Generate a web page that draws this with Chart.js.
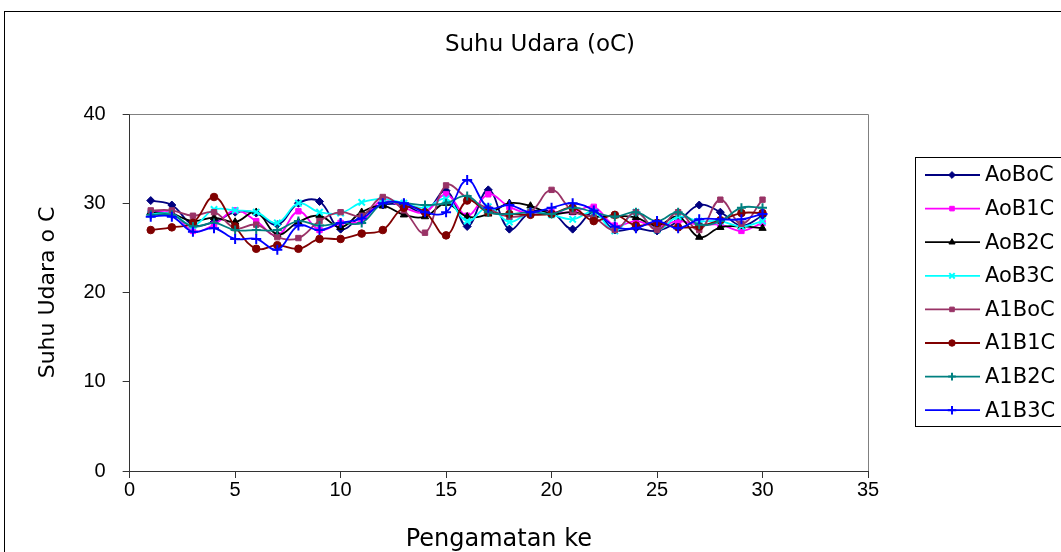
<!DOCTYPE html>
<html>
<head>
<meta charset="utf-8">
<script src="https://cdn.jsdelivr.net/npm/chart.js@4/dist/chart.umd.min.js"></script>
<style>
  html, body { margin: 0; padding: 0; background: #fff; }
  #wrap { width: 1061px; height: 552px; }
</style>
</head>
<body>
<div id="wrap"><canvas id="chart-suhu" width="1061" height="552"></canvas></div>
<script>
// data
var obs = [1, 2, 3, 4, 5, 6, 7, 8, 9, 10, 11, 12, 13, 14, 15, 16, 17, 18, 19, 20, 21, 22, 23, 24, 25, 26, 27, 28, 29, 30];
var seriesNames = ['AoBoC', 'AoB1C', 'AoB2C', 'AoB3C', 'A1BoC', 'A1B1C', 'A1B2C', 'A1B3C'];
var aoBoC = [30.3, 29.8, 27.6, 27.9, 29.0, 28.9, 27.6, 30.0, 30.2, 27.1, 28.6, 29.8, 29.8, 29.0, 31.4, 27.4, 31.5, 27.1, 29.0, 29.0, 27.1, 29.0, 27.0, 27.2, 26.9, 28.0, 29.8, 29.0, 27.5, 28.6];
var aoB1C = [29.0, 29.0, 26.9, 27.6, 29.2, 28.0, 26.4, 29.1, 27.0, 27.8, 28.0, 30.4, 29.5, 29.0, 31.0, 28.6, 31.0, 29.6, 28.8, 29.0, 29.0, 29.6, 27.5, 28.0, 27.4, 28.0, 27.6, 27.6, 26.9, 27.8];
var aoB2C = [29.0, 28.8, 28.0, 28.4, 27.9, 29.0, 26.5, 27.9, 28.6, 27.3, 29.0, 29.7, 28.7, 28.5, 30.0, 28.5, 28.8, 30.0, 29.7, 28.8, 29.0, 28.5, 28.6, 28.4, 27.5, 28.5, 26.2, 27.3, 27.4, 27.2];
var aoB3C = [28.8, 28.8, 27.5, 29.3, 29.2, 29.0, 27.8, 30.0, 29.0, 28.9, 30.1, 30.5, 30.0, 29.5, 30.5, 28.0, 29.6, 27.9, 29.0, 28.7, 28.2, 29.0, 26.9, 29.0, 27.0, 28.5, 28.0, 28.0, 27.4, 28.0];
var a1BoC = [29.2, 29.2, 28.6, 29.0, 27.2, 27.6, 26.2, 26.1, 28.0, 29.0, 28.6, 30.7, 29.2, 26.7, 32.0, 30.6, 29.4, 28.5, 29.0, 31.5, 29.1, 28.4, 27.0, 29.0, 27.0, 29.0, 27.0, 30.4, 27.7, 30.4];
var a1B1C = [27.0, 27.3, 27.8, 30.7, 27.4, 24.9, 25.3, 24.9, 26.0, 26.0, 26.6, 27.0, 29.5, 29.0, 26.4, 30.3, 29.0, 28.8, 28.7, 28.8, 29.5, 28.0, 28.7, 27.5, 27.8, 27.3, 27.4, 28.1, 28.9, 28.9];
var a1B2C = [28.7, 28.7, 27.4, 27.8, 27.0, 27.0, 27.0, 28.0, 27.5, 27.8, 27.8, 30.0, 30.0, 29.8, 30.0, 30.8, 29.0, 28.8, 29.0, 28.8, 29.5, 29.0, 28.5, 29.0, 28.0, 29.0, 27.6, 28.0, 29.5, 29.5];
var a1B3C = [28.5, 28.5, 26.8, 27.2, 26.0, 26.0, 24.8, 27.5, 27.0, 27.8, 28.3, 30.0, 30.0, 29.0, 29.0, 32.6, 29.5, 29.8, 29.0, 29.5, 30.0, 29.2, 27.4, 27.2, 28.0, 27.2, 28.2, 28.2, 28.2, 28.8];
var xTicks = [0, 5, 10, 15, 20, 25, 30, 35];
var yTicks = [0, 10, 20, 30, 40];
var chartTitle = 'Suhu Udara (oC)';

var allValues = [aoBoC, aoB1C, aoB2C, aoB3C, a1BoC, a1B1C, a1B2C, a1B3C];
var colors = ['#000080', '#ff00ff', '#000000', '#00ffff', '#993366', '#800000', '#008080', '#0000ff'];
var markers = ['rectRot', 'rect', 'triangle', 'crossRot', 'rect', 'circle', 'cross', 'cross'];
var markerSize = [4, 3.8, 4.2, 4.5, 3.8, 3.8, 4.5, 5];

var toPoints = (xs, ys) => {
    var pts = [];
    for (var i = 0; i < xs.length; i++) {
        pts.push({x: xs[i], y: ys[i]});
    }
    return pts;
}

var datasets = [];
for (var s = 0; s < seriesNames.length; s++) {
    var isLine = markers[s] == 'cross' || markers[s] == 'crossRot';
    datasets.push({
        label: seriesNames[s],
        data: toPoints(obs, allValues[s]),
        borderColor: colors[s],
        backgroundColor: colors[s],
        pointBackgroundColor: colors[s],
        pointBorderColor: colors[s],
        pointStyle: markers[s],
        pointRadius: markerSize[s],
        pointBorderWidth: isLine ? 2 : 1,
        borderWidth: 1.8,
        tension: 0.4,
        showLine: true,
        order: seriesNames.length - s
    });
}

// frame around the whole chart, title, plot border and legend box
var extras = {
    id: 'extras',
    afterDraw: (chart) => {
        var ctx = chart.ctx;
        var a = chart.chartArea;
        ctx.save();
        ctx.strokeStyle = '#000';
        ctx.lineWidth = 1;
        ctx.strokeRect(4.5, 11.5, 1100, 600);

        ctx.fillStyle = '#000';
        ctx.font = '23px "DejaVu Sans"';
        ctx.textAlign = 'center';
        ctx.textBaseline = 'middle';
        ctx.fillText(chartTitle, 540, 45);

        ctx.strokeStyle = '#808080';
        ctx.beginPath();
        ctx.moveTo(a.left, a.top + 0.5);
        ctx.lineTo(a.right + 0.5, a.top + 0.5);
        ctx.lineTo(a.right + 0.5, a.bottom);
        ctx.stroke();

        // legend
        ctx.strokeStyle = '#000';
        ctx.strokeRect(915.5, 157.5, 200, 269);
        ctx.font = '21px "DejaVu Sans"';
        ctx.textBaseline = 'middle';
        ctx.textAlign = 'left';
        for (var i = 0; i < seriesNames.length; i++) {
            var y = 175 + i * 33.6;
            ctx.strokeStyle = colors[i];
            ctx.lineWidth = 1.8;
            ctx.beginPath();
            ctx.moveTo(925, y);
            ctx.lineTo(980, y);
            ctx.stroke();
            var isLine = markers[i] == 'cross' || markers[i] == 'crossRot';
            ctx.lineWidth = isLine ? 2 : 1;
            ctx.fillStyle = colors[i];
            Chart.helpers.drawPoint(ctx, {
                pointStyle: markers[i],
                radius: markerSize[i] * 0.85,
                borderWidth: isLine ? 2 : 1,
                rotation: 0
            }, 952, y);
            ctx.fillStyle = '#000';
            ctx.fillText(seriesNames[i], 985, y + 1);
        }
        ctx.restore();
    }
}

var canv = window.document.getElementById('chart-suhu');
var context = canv.getContext('2d');

var config = {
    type: 'scatter',
    data: {datasets: datasets},
    options: {
        responsive: false,
        animation: false,
        layout: {padding: {top: 114, left: 35, right: 193, bottom: 0}},
        plugins: {
            legend: {display: false},
            tooltip: {enabled: false},
            title: {display: false}
        },
        scales: {
            x: {
                type: 'linear',
                min: 0,
                max: 35,
                afterBuildTicks: (axis) => { axis.ticks = xTicks.map(v => ({value: v})); },
                ticks: {color: '#000', font: {family: '"Liberation Sans"', size: 20}, padding: 0},
                grid: {drawOnChartArea: false, drawTicks: true, tickLength: 7, color: '#333'},
                border: {color: '#333', width: 1},
                title: {
                    display: true,
                    text: 'Pengamatan ke',
                    color: '#000',
                    font: {family: '"DejaVu Sans"', size: 24, lineHeight: 1.0},
                    padding: {top: 26, bottom: 0}
                }
            },
            y: {
                type: 'linear',
                min: 0,
                max: 40,
                afterBuildTicks: (axis) => { axis.ticks = yTicks.map(v => ({value: v})); },
                ticks: {color: '#000', font: {family: '"Liberation Sans"', size: 20}, padding: 17},
                grid: {drawOnChartArea: false, drawTicks: true, tickLength: 7, color: '#333'},
                border: {color: '#333', width: 1},
                title: {
                    display: true,
                    text: 'Suhu Udara o C',
                    color: '#000',
                    font: {family: '"DejaVu Sans"', size: 22, lineHeight: 1.2},
                    padding: {top: 0, bottom: 5}
                }
            }
        }
    },
    plugins: [extras]
}
var chart1 = new Chart(context, config);
</script>
</body>
</html>
